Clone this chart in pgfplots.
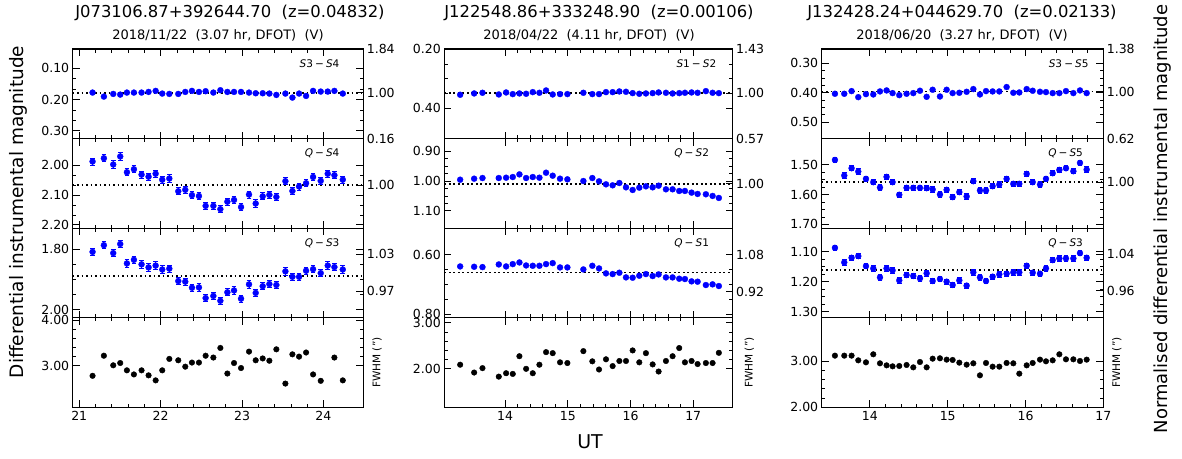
\documentclass[border=0pt]{standalone}
\usepackage{fontspec}
\setmainfont{DejaVu Sans}
\usepackage{pgfplots}
\usepackage{pgfplotstable}
\pgfplotsset{compat=1.18}

\pgfplotstableread{
x r1 r2 r3 fw
21.164 0.1774 1.987 1.809 2.78
21.303 0.1903 1.976 1.787 3.22
21.418 0.1817 1.997 1.813 3.01
21.504 0.1839 1.970 1.783 3.06
21.586 0.1774 2.023 1.847 2.90
21.672 0.1774 2.013 1.835 2.81
21.766 0.1774 2.031 1.850 2.90
21.852 0.1753 2.038 1.860 2.79
21.939 0.1720 2.028 1.854 2.68
22.020 0.1806 2.048 1.867 2.90
22.107 0.1817 2.044 1.864 3.15
22.217 0.1817 2.087 1.905 3.12
22.303 0.1753 2.082 1.907 2.98
22.385 0.1720 2.100 1.927 3.07
22.471 0.1753 2.103 1.926 3.07
22.553 0.1731 2.136 1.961 3.22
22.648 0.1774 2.136 1.954 3.18
22.734 0.1699 2.147 1.970 3.39
22.820 0.1753 2.122 1.942 2.83
22.902 0.1753 2.116 1.936 3.06
22.988 0.1753 2.140 1.963 2.95
23.086 0.1774 2.098 1.916 3.31
23.168 0.1796 2.128 1.944 3.12
23.254 0.1796 2.104 1.922 3.16
23.336 0.1806 2.099 1.915 3.11
23.422 0.1849 2.106 1.918 3.36
23.533 0.1806 2.053 1.873 2.61
23.619 0.1935 2.086 1.891 3.25
23.701 0.1806 2.071 1.891 3.20
23.787 0.1882 2.060 1.871 3.29
23.873 0.1720 2.039 1.866 2.81
23.967 0.1742 2.052 1.879 2.67
24.053 0.1742 2.028 1.854 nan
24.135 0.1720 2.033 1.859 3.18
24.238 0.1806 2.048 1.867 2.68
}\colAdata

\pgfplotstableread{
x r1 r2 r3 fw
13.283 0.3548 0.9956 0.6400 2.089
13.506 0.3503 0.9922 0.6411 1.919
13.639 0.3480 0.9900 0.6422 2.015
13.899 0.3537 0.9900 0.6333 1.830
14.016 0.3469 0.9889 0.6400 1.904
14.122 0.3525 0.9867 0.6322 1.889
14.228 0.3503 0.9778 0.6267 2.274
14.335 0.3514 0.9900 0.6367 2.000
14.441 0.3458 0.9867 0.6378 1.904
14.547 0.3480 0.9889 0.6378 2.089
14.653 0.3401 0.9722 0.6322 2.363
14.759 0.3537 0.9822 0.6289 2.341
14.876 0.3525 0.9922 0.6433 2.141
14.993 0.3525 0.9944 0.6433 2.126
15.248 0.3480 1.0000 0.6500 2.385
15.391 0.3525 0.9900 0.6378 2.163
15.498 0.3525 1.0011 0.6467 1.985
15.609 0.3458 1.0111 0.6633 2.207
15.715 0.3458 1.0144 0.6656 2.059
15.822 0.3435 1.0067 0.6611 2.170
15.928 0.3446 1.0211 0.6767 2.170
16.034 0.3492 1.0300 0.6778 2.400
16.140 0.3514 1.0222 0.6711 2.141
16.246 0.3503 1.0178 0.6656 2.341
16.353 0.3492 1.0211 0.6722 2.096
16.448 0.3469 1.0156 0.6667 1.941
16.565 0.3480 1.0278 0.6767 2.170
16.671 0.3503 1.0278 0.6767 2.274
16.777 0.3492 1.0333 0.6811 2.452
16.868 0.3480 1.0333 0.6822 2.141
16.974 0.3469 1.0389 0.6900 2.170
17.070 0.3480 1.0433 0.6911 2.104
17.202 0.3424 1.0444 0.7022 2.126
17.309 0.3480 1.0500 0.7000 2.126
17.409 0.3492 1.0567 0.7056 2.348
}\colBdata

\pgfplotstableread{
x r1 r2 r3 fw
13.550 0.4034 1.4844 1.0867 3.115
13.670 0.4034 1.5367 1.1356 3.115
13.764 0.3943 1.5122 1.1200 3.115
13.850 0.4149 1.5233 1.1144 3.014
13.949 0.4046 1.5478 1.1478 2.971
14.043 0.4057 1.5589 1.1556 3.144
14.129 0.3954 1.5767 1.1856 2.950
14.214 0.3920 1.5411 1.1556 2.906
14.291 0.4011 1.5589 1.1622 2.885
14.377 0.4080 1.6011 1.1956 2.892
14.471 0.4034 1.5778 1.1778 2.914
14.557 0.4011 1.5778 1.1811 2.863
14.643 0.3931 1.5778 1.1889 2.978
14.729 0.4138 1.5789 1.1722 2.863
14.806 0.3897 1.5833 1.1978 3.050
14.900 0.4126 1.6000 1.1911 3.058
14.986 0.3897 1.5844 1.2000 3.029
15.063 0.4011 1.6089 1.2111 3.022
15.149 0.4000 1.5922 1.1956 2.964
15.243 0.3966 1.6067 1.2133 2.921
15.329 0.3874 1.5556 1.1689 2.950
15.414 0.4057 1.5867 1.1856 2.691
15.492 0.3943 1.5867 1.1978 2.957
15.577 0.3954 1.5722 1.1833 2.878
15.663 0.3954 1.5667 1.1756 2.878
15.757 0.3805 1.5478 1.1733 2.957
15.843 0.4000 1.5644 1.1689 2.950
15.920 0.3989 1.5644 1.1689 2.727
16.015 0.3874 1.5311 1.1467 2.906
16.092 0.3931 1.5589 1.1700 2.957
16.186 0.3966 1.5667 1.1733 3.029
16.263 0.3977 1.5478 1.1556 2.993
16.349 0.4011 1.5289 1.1278 3.014
16.435 0.4011 1.5178 1.1222 3.144
16.520 0.3943 1.5122 1.1222 3.036
16.615 0.4011 1.5222 1.1222 3.036
16.700 0.3920 1.4944 1.1044 3.000
16.786 0.4011 1.5167 1.1200 3.029
}\colCdata

\pgfplotsset{
  base/.style={
    scale only axis, height=89.6pt, anchor=north west,
    tick align=inside,
    major tick length=7pt, minor tick length=3.5pt,
    every tick/.append style={draw=black, line width=0.9pt},
    every minor tick/.append style={draw=black, line width=0.7pt},
    axis line style={black, line width=1.1pt},
    /pgf/number format/assume math mode=true,
    tick label style={font=\fontsize{12.5}{14}\selectfont},
    yticklabel style={/pgf/number format/fixed, /pgf/number format/fixed zerofill, /pgf/number format/precision=2},
    xtick pos=both, ytick pos=both, xticklabel pos=lower, yticklabel pos=left,
    clip=false,
  },
  colA/.style={width=290.6pt, xmin=20.92, xmax=24.49, xtick={21,22,23,24}, minor x tick num=4},
  colB/.style={width=288.4pt, xmin=13.03, xmax=17.63, xtick={14,15,16,17}, minor x tick num=4},
  colC/.style={width=281.6pt, xmin=13.38, xmax=17.0, xtick={14,15,16,17}, minor x tick num=4},
  mag/.style={y dir=reverse, xticklabels={}},
  rside/.style={base, y dir=reverse, hide x axis, minor y tick num=0},
  rpos/.style={ytick pos=right, yticklabel pos=right},
  dotline/.style={black, line width=1.7pt, dash pattern=on 1.7pt off 2.8pt},
  bpt/.style={only marks, mark=*, mark size=3pt, blue, mark options={fill=blue, draw=blue, line width=0.3pt},
    error bars/y dir=both, error bars/y explicit,
    error bars/error bar style={blue, line width=0.9pt},
    error bars/error mark options={rotate=90, blue, mark size=2.3pt, line width=0.9pt}},
  kpt/.style={only marks, mark=*, mark size=2.8pt, black},
}
\tikzset{
  lab/.style={anchor=east, font=\fontsize{10.5}{12}\selectfont},
  fwlab/.style={rotate=90, font=\fontsize{10.5}{12}\selectfont},
}
\newcommand{\mm}{\hspace{0.2em}−\hspace{0.2em}}

\begin{document}
\begin{tikzpicture}
\path[use as bounding box] (0,0) rectangle (1182pt,-458pt);

% ================= Column A =================
\begin{axis}[base, colA, mag, at={(72.7pt,-49pt)}, ymin=0.0377, ymax=0.325, ytick={0.1,0.2,0.3}, minor y tick num=2]
\addplot[dotline] coordinates {(20.92,0.1785) (24.49,0.1785)};
\addplot[bpt] table[x=x, y=r1, y error expr=0.003] {\colAdata};
\node[lab] at (axis description cs:0.93,0.835) {\textit{S}3\mm\textit{S}4};
\end{axis}
\begin{axis}[rside, colA, at={(72.7pt,-49pt)}, ymin=0.0377, ymax=0.325, ytick={0.0377,0.1785,0.325}, yticklabels={1.84,1.00,0.16}, rpos]
\addplot[draw=none] coordinates {(21,0.2)};
\end{axis}

\begin{axis}[base, colA, mag, at={(72.7pt,-138.6pt)}, ymin=1.91, ymax=2.211, ytick={2.0,2.1,2.2}, minor y tick num=2]
\addplot[dotline] coordinates {(20.92,2.0667) (24.49,2.0667)};
\addplot[bpt] table[x=x, y=r2, y error expr=0.012] {\colAdata};
\node[lab] at (axis description cs:0.93,0.835) {\textit{Q}\mm\textit{S}4};
\end{axis}
\begin{axis}[rside, colA, at={(72.7pt,-138.6pt)}, ymin=1.91, ymax=2.211, ytick={2.0667}, yticklabels={1.00}, rpos]
\addplot[draw=none] coordinates {(21,2.0)};
\end{axis}

\begin{axis}[base, colA, mag, at={(72.7pt,-228.2pt)}, ymin=1.731, ymax=2.026, ytick={1.8,2.0}, minor y tick num=3]
\addplot[dotline] coordinates {(20.92,1.8875) (24.49,1.8875)};
\addplot[bpt] table[x=x, y=r3, y error expr=0.012] {\colAdata};
\node[lab] at (axis description cs:0.93,0.835) {\textit{Q}\mm\textit{S}3};
\end{axis}
\begin{axis}[rside, colA, at={(72.7pt,-228.2pt)}, ymin=1.731, ymax=2.026, ytick={1.8166,1.9392}, yticklabels={1.03,0.97}, rpos]
\addplot[draw=none] coordinates {(21,1.8)};
\end{axis}

\begin{axis}[base, colA, at={(72.7pt,-317.8pt)}, ymin=2.088, ymax=4.05, ytick={3,4}, minor y tick num=4]
\addplot[kpt] table[x=x, y=fw] {\colAdata};
\node[fwlab] at (axis description cs:1.047,0.5) {FWHM (")};
\end{axis}

% ================= Column B =================
\begin{axis}[base, colB, mag, at={(444.3pt,-49pt)}, ymin=0.199, ymax=0.504, ytick={0.2,0.4}, minor y tick num=3]
\addplot[dotline] coordinates {(13.03,0.349) (17.63,0.349)};
\addplot[bpt] table[x=x, y=r1, y error expr=0.003] {\colBdata};
\node[lab] at (axis description cs:0.955,0.835) {\textit{S}1\mm\textit{S}2};
\end{axis}
\begin{axis}[rside, colB, at={(444.3pt,-49pt)}, ymin=0.199, ymax=0.504, ytick={0.199,0.349,0.504}, yticklabels={1.43,1.00,0.57}, rpos]
\addplot[draw=none] coordinates {(14,0.3)};
\end{axis}

\begin{axis}[base, colB, mag, at={(444.3pt,-138.6pt)}, ymin=0.858, ymax=1.158, ytick={0.9,1.0,1.1}, minor y tick num=3]
\addplot[dotline] coordinates {(13.03,1.0089) (17.63,1.0089)};
\addplot[bpt] table[x=x, y=r2, y error expr=0.004] {\colBdata};
\node[lab] at (axis description cs:0.93,0.835) {\textit{Q}\mm\textit{S}2};
\end{axis}
\begin{axis}[rside, colB, at={(444.3pt,-138.6pt)}, ymin=0.858, ymax=1.158, ytick={1.0089}, yticklabels={1.00}, rpos]
\addplot[draw=none] coordinates {(14,1.0)};
\end{axis}

\begin{axis}[base, colB, mag, at={(444.3pt,-228.2pt)}, ymin=0.512, ymax=0.812, ytick={0.6,0.8}, minor y tick num=3]
\addplot[dotline] coordinates {(13.03,0.66) (17.63,0.66)};
\addplot[bpt] table[x=x, y=r3, y error expr=0.004] {\colBdata};
\node[lab] at (axis description cs:0.93,0.835) {\textit{Q}\mm\textit{S}1};
\end{axis}
\begin{axis}[rside, colB, at={(444.3pt,-228.2pt)}, ymin=0.512, ymax=0.812, ytick={0.600,0.725}, yticklabels={1.08,0.92}, rpos]
\addplot[draw=none] coordinates {(14,0.6)};
\end{axis}

\begin{axis}[base, colB, at={(444.3pt,-317.8pt)}, ymin=1.16, ymax=3.11, ytick={2,3}, minor y tick num=4]
\addplot[kpt] table[x=x, y=fw] {\colBdata};
\node[fwlab] at (axis description cs:1.058,0.5) {FWHM (")};
\end{axis}

% ================= Column C =================
\begin{axis}[base, colC, mag, at={(821.7pt,-49pt)}, ymin=0.251, ymax=0.556, ytick={0.3,0.4,0.5}, minor y tick num=3]
\addplot[dotline] coordinates {(13.38,0.3955) (17.0,0.3955)};
\addplot[bpt] table[x=x, y=r1, y error expr=0.003] {\colCdata};
\node[lab] at (axis description cs:0.96,0.835) {\textit{S}3\mm\textit{S}5};
\end{axis}
\begin{axis}[rside, colC, at={(821.7pt,-49pt)}, ymin=0.251, ymax=0.556, ytick={0.251,0.3955,0.556}, yticklabels={1.38,1.00,0.62}, rpos]
\addplot[draw=none] coordinates {(14,0.4)};
\end{axis}

\begin{axis}[base, colC, mag, at={(821.7pt,-138.6pt)}, ymin=1.413, ymax=1.713, ytick={1.5,1.6,1.7}, minor y tick num=3]
\addplot[dotline] coordinates {(13.38,1.559) (17.0,1.559)};
\addplot[bpt] table[x=x, y=r2, y error expr=0.009] {\colCdata};
\node[lab] at (axis description cs:0.94,0.835) {\textit{Q}\mm\textit{S}5};
\end{axis}
\begin{axis}[rside, colC, at={(821.7pt,-138.6pt)}, ymin=1.413, ymax=1.713, ytick={1.559}, yticklabels={1.00}, rpos]
\addplot[draw=none] coordinates {(14,1.5)};
\end{axis}

\begin{axis}[base, colC, mag, at={(821.7pt,-228.2pt)}, ymin=1.021, ymax=1.321, ytick={1.1,1.2,1.3}, minor y tick num=3]
\addplot[dotline] coordinates {(13.38,1.161) (17.0,1.161)};
\addplot[bpt] table[x=x, y=r3, y error expr=0.009] {\colCdata};
\node[lab] at (axis description cs:0.94,0.835) {\textit{Q}\mm\textit{S}3};
\end{axis}
\begin{axis}[rside, colC, at={(821.7pt,-228.2pt)}, ymin=1.021, ymax=1.321, ytick={1.108,1.2303}, yticklabels={1.04,0.96}, rpos]
\addplot[draw=none] coordinates {(14,1.1)};
\end{axis}

\begin{axis}[base, colC, at={(821.7pt,-317.8pt)}, ymin=2.0, ymax=3.93, ytick={2,3}, minor y tick num=4]
\addplot[kpt] table[x=x, y=fw] {\colCdata};
\node[fwlab] at (axis description cs:1.048,0.5) {FWHM (")};
\end{axis}

% ================= Titles and labels =================
\node[font=\fontsize{16.4}{19}\selectfont] at (230pt,-13pt) {J073106.87+392644.70~~(z=0.04832)};
\node[font=\fontsize{13}{15}\selectfont] at (218pt,-35.5pt) {2018/11/22~~(3.07 hr, DFOT)~~(V)};
\node[font=\fontsize{16.4}{19}\selectfont] at (599pt,-13pt) {J122548.86+333248.90~~(z=0.00106)};
\node[font=\fontsize{13}{15}\selectfont] at (589pt,-35.5pt) {2018/04/22~~(4.11 hr, DFOT)~~(V)};
\node[font=\fontsize{16.4}{19}\selectfont] at (962pt,-13pt) {J132428.24+044629.70~~(z=0.02133)};
\node[font=\fontsize{13}{15}\selectfont] at (962pt,-35.5pt) {2018/06/20~~(3.27 hr, DFOT)~~(V)};

\node[rotate=90, font=\fontsize{18.5}{20}\selectfont] at (18pt,-212pt) {Differential instrumental magnitude};
\node[rotate=90, font=\fontsize{18}{20}\selectfont] at (1163pt,-219pt) {Normalised differential instrumental magnitude};
\node[font=\fontsize{19}{21}\selectfont] at (590pt,-442pt) {UT};
\end{tikzpicture}
\end{document}
